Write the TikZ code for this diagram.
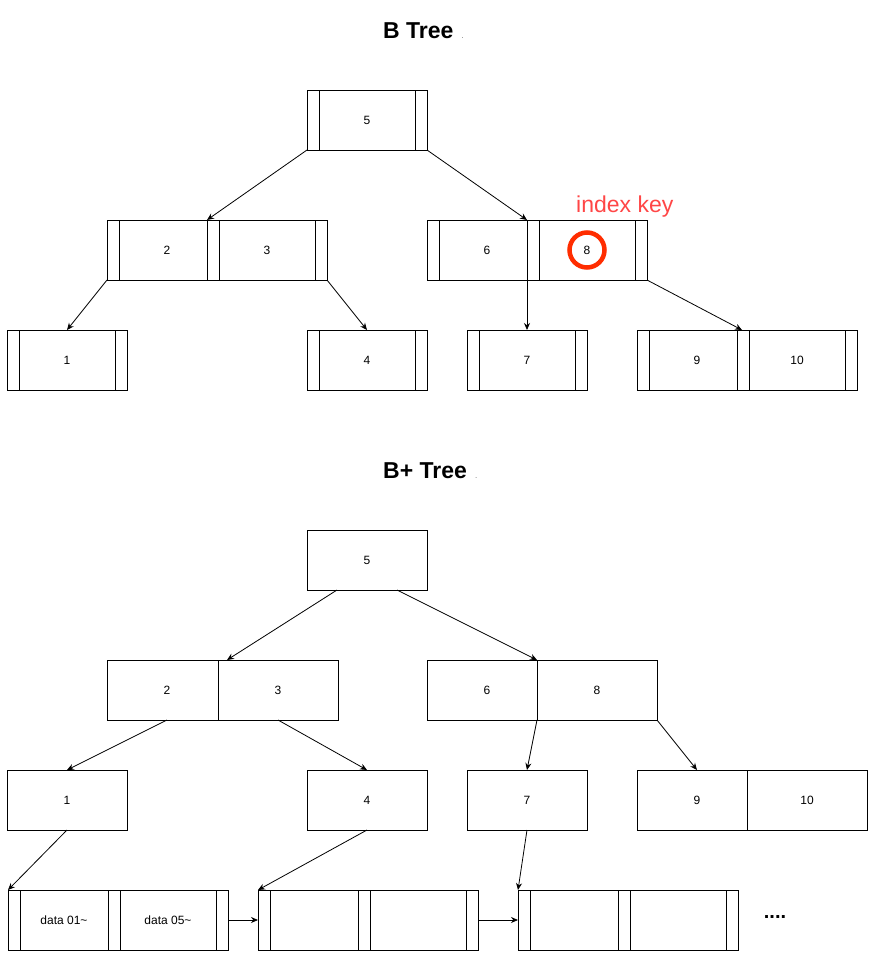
\documentclass[tikz,border=0pt]{standalone}
\usepackage{fontspec}
\setmainfont{Liberation Sans}
\usetikzlibrary{arrows.meta}
\definecolor{keyred}{RGB}{255,70,70}
\definecolor{ringred}{RGB}{255,45,0}
\begin{document}
\begin{tikzpicture}
	[
	x=1pt, y=-1pt, font=\fontsize{12}{14}\selectfont, >={Stealth[length=7pt, width=6pt]},
	%Schluessel mit Zeigerfeldern links und rechts
	bkey/.style={draw, fill=white, line width=0.9pt, minimum width=120pt, minimum height=60pt, inner sep=0pt, outer sep=0pt,
		path picture={
			\draw[line width=0.9pt] ([xshift=12pt]path picture bounding box.north west) -- ([xshift=12pt]path picture bounding box.south west)
				([xshift=-12pt]path picture bounding box.north east) -- ([xshift=-12pt]path picture bounding box.south east);
		}},
	pkey/.style={draw, fill=white, line width=0.9pt, minimum width=120pt, minimum height=60pt, inner sep=0pt, outer sep=0pt},
	title/.style={font=\fontsize{23}{26}\selectfont\bfseries, inner sep=0pt, anchor=base west},
	dot/.style={font=\fontsize{6}{6}\selectfont, inner sep=0pt, anchor=base west},
	link/.style={->, line width=0.8pt}
	]
	\useasboundingbox (0,0) rectangle (878,964);
	%B Tree
	\node[title] (tb) at (383,38) {B Tree};
	\node[dot] (tbdot) at ([xshift=8pt]tb.base east) {.};
	\node[bkey] (a5) at (367,120) {5};
	\node[bkey] (a2) at (167,250) {2};
	\node[bkey] (a3) at (267,250) {3};
	\node[bkey] (a6) at (487,250) {6};
	\node[bkey] (a8) at (587,250) {8};
	\node[bkey] (a1) at (67,360) {1};
	\node[bkey] (a4) at (367,360) {4};
	\node[bkey] (a7) at (527,360) {7};
	\node[bkey] (a9) at (697,360) {9};
	\node[bkey] (a10) at (797,360) {10};
	%Markierung
	\node[circle, draw=ringred, line width=4.5pt, minimum size=35pt, inner sep=0pt] (ring) at (a8.center) {};
	\node[anchor=base west, inner sep=0pt, text=keyred, font=\fontsize{23}{26}\selectfont] (idx) at (576,212) {index key};
	\draw[link] (a5.south west) -- (a3.north west);
	\draw[link] (a5.south east) -- (a8.north west);
	\draw[link] (a2.south west) -- (a1.north);
	\draw[link] (a3.south east) -- (a4.north);
	\draw[link] (a8.south west) -- (a7.north);
	\draw[link] (a8.south east) -- ([xshift=5pt]a10.north west);
	%B+ Tree
	\node[title] (tbp) at (383,478) {B+ Tree};
	\node[dot] (tbpdot) at ([xshift=8pt]tbp.base east) {.};
	\node[pkey] (c5) at (367,560) {5};
	\node[pkey] (c2) at (167,690) {2};
	\node[pkey] (c3) at (278,690) {3};
	\node[pkey] (c6) at (487,690) {6};
	\node[pkey] (c8) at (597,690) {8};
	\node[pkey] (c1) at (67,800) {1};
	\node[pkey] (c4) at (367,800) {4};
	\node[pkey] (c7) at (527,800) {7};
	\node[pkey] (c9) at (697,800) {9};
	\node[pkey] (c10) at (807,800) {10};
	%Blaetter
	\node[bkey, minimum width=112pt] (d1a) at (64,920) {data 01\textasciitilde};
	\node[bkey] (d1b) at (168,920) {data 05\textasciitilde};
	\node[bkey, minimum width=112pt] (d2a) at (314,920) {};
	\node[bkey] (d2b) at (418,920) {};
	\node[bkey, minimum width=112pt] (d3a) at (574,920) {};
	\node[bkey] (d3b) at (678,920) {};
	\node[anchor=base, inner sep=0pt, font=\fontsize{20}{20}\selectfont\bfseries] (more) at (775,918) {....};
	\draw[link] ([xshift=-30pt]c5.south) -- (c2.north east);
	\draw[link] ([xshift=30pt]c5.south) -- (c8.north west);
	\draw[link] (c2.south) -- (c1.north);
	\draw[link] (c3.south) -- (c4.north);
	\draw[link] (c8.south west) -- (c7.north);
	\draw[link] (c8.south east) -- (c9.north);
	\draw[link] (c1.south) -- (d1a.north west);
	\draw[link] (c4.south) -- (d2a.north west);
	\draw[link] (c7.south) -- (d3a.north west);
	\draw[link] (d1b.east) -- (d2a.west);
	\draw[link] (d2b.east) -- (d3a.west);
\end{tikzpicture}
\end{document}
